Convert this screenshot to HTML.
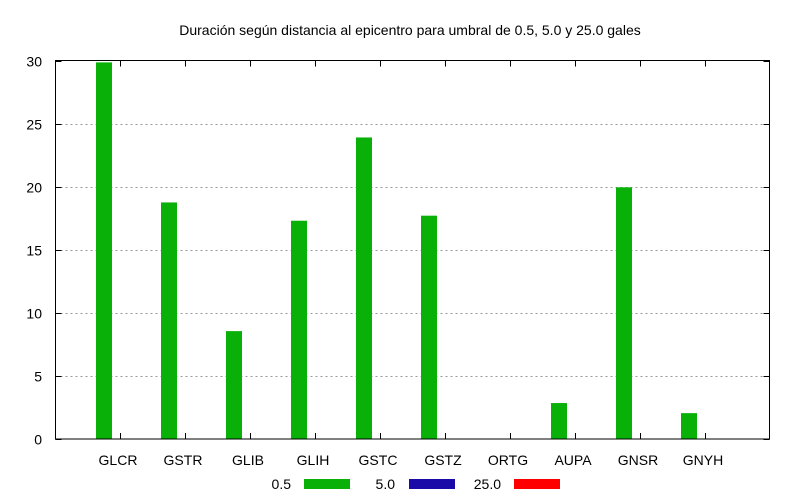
<!DOCTYPE html>
<html><head><meta charset="utf-8"><style>
body{margin:0;background:#fff;}
svg{display:block;font-family:"Liberation Sans",sans-serif;}
</style></head><body>
<svg id="c" width="800" height="500" xmlns="http://www.w3.org/2000/svg">
<rect width="800" height="500" fill="#fff"/>
<text x="410" y="35" font-size="14" text-anchor="middle" fill="#000">Duración según distancia al epicentro para umbral de 0.5, 5.0 y 25.0 gales</text>
<g id="grid"></g><g id="bars"></g><g id="axes"></g><g id="legend"></g>
</svg>
<script>
const categories=["GLCR","GSTR","GLIB","GLIH","GSTC","GSTZ","ORTG","AUPA","GNSR","GNYH"];
const s05=[29.85,18.75,8.55,17.3,23.9,17.7,0,2.85,19.95,2.05];
const s50=[0,0,0,0,0,0,0,0,0,0];
const s250=[0,0,0,0,0,0,0,0,0,0];
const yTicks=[0,5,10,15,20,25,30];
const seriesNames=["0.5","5.0","25.0"];
const NS="http://www.w3.org/2000/svg";
const L=55.5,R=769.5,T=60.5,B=439;
function y(v){return B-(v/30)*(B-T);}
function xc(i){return 120+65*i;}
function mk(tag,attrs,parent){const e=document.createElementNS(NS,tag);for(const k in attrs)e.setAttribute(k,attrs[k]);parent.appendChild(e);return e;}
const grid=document.getElementById('grid'),bars=document.getElementById('bars'),axes=document.getElementById('axes'),legend=document.getElementById('legend');
yTicks.forEach(t=>{
  const yy=Math.round(y(t))+0.5;
  if(t>0&&t<30){const g=mk('line',{x1:L,x2:R,y1:yy,y2:yy,stroke:'#999','stroke-dasharray':'2,3','stroke-width':1},grid);
  
  }
  const tk=mk('line',{x1:L,x2:L+6,y1:yy,y2:yy,stroke:'#000'},axes);
  
  
  const tk2=mk('line',{x1:R-6,x2:R,y1:yy,y2:yy,stroke:'#000'},axes);
  
  
  const tx=mk('text',{x:42,y:yy+5,'font-size':14,'text-anchor':'end'},axes);
  tx.textContent=t;
  
  
});
const colors=["#08b008","#1a0aa8","#ff0000"];
const series=[s05,s50,s250];
categories.forEach((c,i)=>{
  series.forEach((s,j)=>{
    const v=s[i]; if(v<=0)return;
    const r=mk('rect',{x:xc(i)-24+16*j,y:y(v),width:16,height:B-y(v),fill:colors[j]},bars);
    
    
  });
  const tk=mk('line',{x1:xc(i)+0.5,x2:xc(i)+0.5,y1:B,y2:B-6,stroke:'#000'},axes);
  
  
  const tk2=mk('line',{x1:xc(i)+0.5,x2:xc(i)+0.5,y1:T,y2:T+6,stroke:'#000'},axes);
  
  
  const tx=mk('text',{x:xc(i)-2,y:465,'font-size':14,'text-anchor':'middle'},axes);
  tx.textContent=c;
  
  
});
const fr=mk('rect',{x:L,y:T,width:R-L,height:B-T,fill:'none',stroke:'#000','stroke-width':1},axes);


const legX=[[291,304],[395,409],[501,514]];
seriesNames.forEach((n,j)=>{
  const t=mk('text',{x:legX[j][0],y:489,'font-size':14,'text-anchor':'end'},legend);
  t.textContent=n;
  
  
  const r=mk('rect',{x:legX[j][1],y:479,width:46,height:10,fill:colors[j]},legend);
  
  
});
</script>
</body></html>
